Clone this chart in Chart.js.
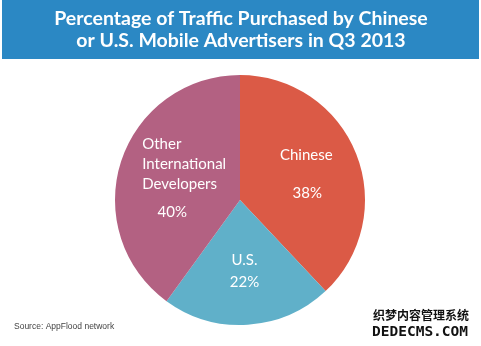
<!DOCTYPE html>
<html>
<head>
<meta charset="utf-8">
<script src="https://cdn.jsdelivr.net/npm/chart.js@4"></script>
<style>
  html, body { margin: 0; padding: 0; background: #fff; }
  #wrap { width: 481px; height: 346px; position: relative; }
</style>
</head>
<body>
<div id="wrap"><canvas id="grafico" width="481" height="346"></canvas></div>
<script>
// datos del grafico
const categorias = ['Chinese', 'U.S.', 'Other International Developers'];
const valores = [38, 22, 40];
const colores = ['#db5a46', '#60b0c9', '#b36182'];
const titulo = ['Percentage of Traffic Purchased by Chinese', 'or U.S. Mobile Advertisers in Q3 2013'];
const fuente = 'Source: AppFlood network';

// lineas de texto de cada sector: [texto, dx, dy, alineacion]
const etiquetas = [
    [['Chinese', 0, -19, 'center'], ['38%', 1, 19, 'center']],
    [['U.S.', 0, -11, 'center'], ['22%', 0, 11, 'center']],
    [['Other', -30, -34, 'left'], ['International', -30, -14, 'left'], ['Developers', -30, 6, 'left'], ['40%', 0, 34, 'center']]
];

const fondo = {
    id: 'fondo',
    beforeDraw(chart) {
        const c = chart.ctx;
        c.save();
        c.fillStyle = '#fff';
        c.fillRect(0, 0, chart.width, chart.height);
        c.fillStyle = '#2b88c4';
        c.fillRect(2, 0, 477, 59);
        c.fillStyle = '#fff';
        c.font = 'bold 19.5px Lato';
        c.textAlign = 'center';
        c.textBaseline = 'middle';
        c.fillText(titulo[0], 241, 19);
        c.fillText(titulo[1], 241, 41);
        c.fillStyle = '#444';
        c.font = '8.5px Arial';
        c.textAlign = 'left';
        c.fillText(fuente, 14, 327);
        c.restore();
    },
    afterDraw(chart) {
        const c = chart.ctx;
        const arcs = chart.getDatasetMeta(0).data;
        c.save();
        c.fillStyle = '#fff';
        c.font = '15px Lato';
        c.textBaseline = 'middle';
        arcs.forEach(function(arc, i) {
            const p = arc.getProps(['x', 'y', 'startAngle', 'endAngle', 'outerRadius'], true);
            const a = (p.startAngle + p.endAngle) / 2;
            const r = p.outerRadius * 0.57;
            const cx = p.x + Math.cos(a) * r;
            const cy = p.y + Math.sin(a) * r;
            etiquetas[i].forEach(function(l) {
                c.textAlign = l[3];
                c.fillText(l[0], cx + l[1], cy + l[2]);
            });
        });
        // marca de agua
        c.textAlign = 'left';
        c.textBaseline = 'middle';
        c.lineJoin = 'round';
        c.font = 'bold 12px "Noto Sans CJK SC"';
        c.strokeStyle = '#fff';
        c.lineWidth = 3;
        c.strokeText('织梦内容管理系统', 373, 315);
        c.fillStyle = '#111';
        c.fillText('织梦内容管理系统', 373, 315);
        c.font = 'bold 14.5px "DejaVu Sans Mono"';
        c.strokeText('DEDECMS.COM', 372, 332);
        c.fillText('DEDECMS.COM', 372, 332);
        c.restore();
    }
};

new Chart(document.getElementById('grafico'), {
    type: 'pie',
    data: {
        labels: categorias,
        datasets: [{
            data: valores,
            backgroundColor: colores,
            borderWidth: 0
        }]
    },
    options: {
        responsive: false,
        animation: false,
        layout: { padding: { top: 75, bottom: 21, left: 115, right: 116 } },
        plugins: {
            legend: { display: false },
            tooltip: { enabled: false }
        }
    },
    plugins: [fondo]
});
</script>
</body>
</html>
